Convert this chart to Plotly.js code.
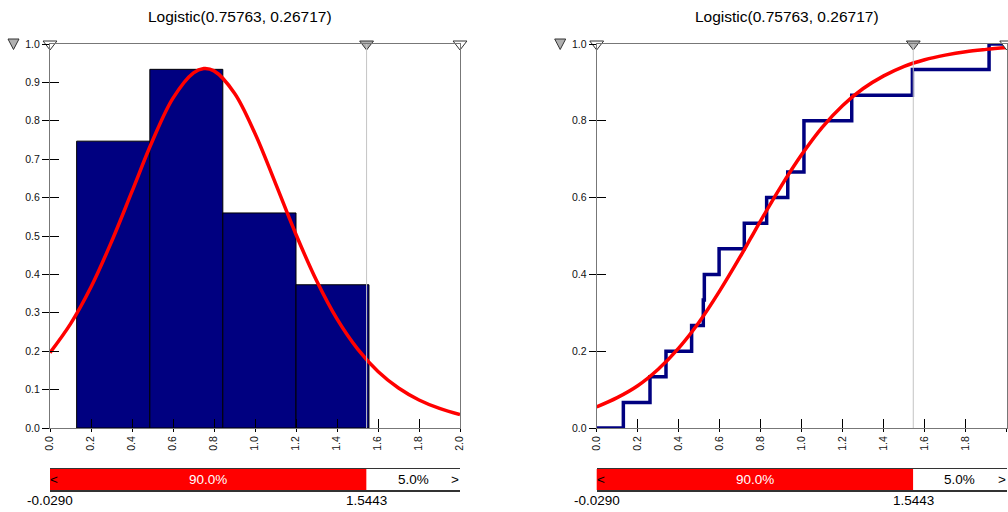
<!DOCTYPE html>
<html>
<head>
<meta charset="utf-8">
<script src="https://cdn.plot.ly/plotly-3.0.1.min.js"></script>
<style>html,body{margin:0;padding:0;background:#fff;}#chart{width:1008px;height:512px;}</style>
</head>
<body>
<div id="chart"></div>
<script>
// ---- data ----
const chartTitle = 'Logistic(0.75763, 0.26717)';

// histogram (left)
const binEdges = [0.130, 0.487, 0.843, 1.200, 1.556];
const binDensity = [0.747, 0.934, 0.560, 0.373];

// fitted logistic curve
const curveX = [0, 0.1, 0.2, 0.3, 0.4, 0.5, 0.6, 0.7, 0.75, 0.8, 0.9, 1.0, 1.1, 1.2, 1.3, 1.4, 1.5, 1.6, 1.7, 1.8, 1.9, 2.0];
const pdfY = [0.196, 0.271, 0.367, 0.485, 0.616, 0.748, 0.859, 0.925, 0.936, 0.930, 0.872, 0.767, 0.637, 0.504, 0.384, 0.284, 0.206, 0.147, 0.104, 0.073, 0.051, 0.035];
const cdfY = [0.055, 0.079, 0.110, 0.153, 0.208, 0.276, 0.357, 0.446, 0.493, 0.540, 0.630, 0.712, 0.783, 0.840, 0.884, 0.917, 0.942, 0.959, 0.971, 0.980, 0.986, 0.991];

// empirical CDF (right)
const ecdfX = [0.130, 0.260, 0.338, 0.463, 0.520, 0.525, 0.597, 0.720, 0.829, 0.932, 1.011, 1.011, 1.244, 1.540, 1.914];
const ecdfY = [0.0667, 0.1333, 0.2000, 0.2667, 0.3333, 0.4000, 0.4667, 0.5333, 0.6000, 0.6667, 0.7333, 0.8000, 0.8667, 0.9333, 1.0000];

// quantile bar
const quantileLow = -0.0290;
const quantileHigh = 1.5443;
const pctMiddle = 90.0;
const pctRight = 5.0;

// top slider handles (in-range ones)
const handleX = [0, quantileHigh, 2.0];
const handleFill = ['#ffffff', '#b0b0b0', '#ffffff'];

// ---- styling / layout ----
const FONT = 'Liberation Sans, Arial, Helvetica, sans-serif';
const NAVY = '#000080';
const RED = '#ff0000';
const xRange = [0, 2];
const yRange = [0, 1];
const W = 1008, H = 512;
const px = v => v / W, py = v => 1 - v / H;
const leftPx = 50, rightPx = 596.7, plotW = 410;
const domL = [px(leftPx), px(leftPx + plotW)];
const domR = [px(rightPx), px(rightPx + plotW)];
const domY = [py(428), py(44)];
const domBar = [py(490), py(469)];

const binCenters = binDensity.map((_, i) => (binEdges[i] + binEdges[i + 1]) / 2);
const binWidths = binDensity.map((_, i) => binEdges[i + 1] - binEdges[i]);

const stepX = [xRange[0]].concat(ecdfX, [xRange[1]]);
const stepY = [0].concat(ecdfY, [ecdfY[ecdfY.length - 1]]);

function handles(xa, ya) {
  return {
    type: 'scatter', mode: 'markers', x: handleX, y: handleX.map(() => yRange[1]),
    xaxis: xa, yaxis: ya, cliponaxis: false, hoverinfo: 'skip',
    marker: {symbol: 'triangle-down', size: 12, color: handleFill, line: {color: '#333', width: 1}}
  };
}
// off-scale handle drawn in the left margin of each panel
function outerHandle(axisLeftPx) {
  const cx = axisLeftPx - 36.5, top = 39, bot = 49.5, hw = 5.5;
  return {type: 'path', xref: 'paper', yref: 'paper', layer: 'above',
    path: `M ${px(cx - hw)} ${py(top)} L ${px(cx + hw)} ${py(top)} L ${px(cx)} ${py(bot)} Z`,
    fillcolor: '#b0b0b0', line: {color: '#333', width: 1}};
}
function quantBars(xa, ya) {
  return [
    {type: 'bar', orientation: 'h', y: [0], base: [quantileLow], x: [quantileHigh - quantileLow],
     width: [1], xaxis: xa, yaxis: ya, marker: {color: RED, line: {width: 0}}, hoverinfo: 'skip'},
    {type: 'bar', orientation: 'h', y: [0], base: [quantileHigh], x: [xRange[1] - quantileHigh + 1],
     width: [1], xaxis: xa, yaxis: ya, marker: {color: '#ffffff', line: {width: 0}}, hoverinfo: 'skip'}
  ];
}
// invisible helper traces so that the inner-tick overlay axes get drawn
function tickCarrier(xa, ya) {
  return {type: 'scatter', mode: 'markers', x: [xRange[0]], y: [yRange[0]], xaxis: xa, yaxis: ya,
    marker: {size: 1, opacity: 0}, hoverinfo: 'skip'};
}

const traces = [
  {type: 'bar', x: binCenters, y: binDensity, width: binWidths, xaxis: 'x', yaxis: 'y',
   marker: {color: NAVY, line: {color: '#000', width: 1}}, hoverinfo: 'skip'},
  {type: 'scatter', mode: 'lines', x: curveX, y: pdfY, xaxis: 'x', yaxis: 'y',
   line: {color: RED, width: 3.5, shape: 'spline'}, hoverinfo: 'skip'},
  handles('x', 'y'),
  {type: 'scatter', mode: 'lines', x: stepX, y: stepY, xaxis: 'x2', yaxis: 'y2',
   line: {color: NAVY, width: 3.5, shape: 'hv'}, hoverinfo: 'skip'},
  {type: 'scatter', mode: 'lines', x: curveX, y: cdfY, xaxis: 'x2', yaxis: 'y2',
   line: {color: RED, width: 3.5, shape: 'spline'}, hoverinfo: 'skip'},
  handles('x2', 'y2'),
  ...quantBars('x3', 'y3'),
  ...quantBars('x4', 'y4'),
  tickCarrier('x5', 'y'),
  tickCarrier('x', 'y5'),
  tickCarrier('x6', 'y2'),
  tickCarrier('x2', 'y6')
];

const tickFont = {family: FONT, size: 10.5, color: '#111'};
function mainX(dom, anchor) {
  return {domain: dom, anchor: anchor, range: xRange, dtick: 0.2, tick0: 0, tickformat: '.1f',
    tickangle: -90, ticks: 'outside', ticklen: 3, tickcolor: '#000', tickwidth: 1,
    tickfont: tickFont, showgrid: false, zeroline: false,
    showline: true, mirror: true, linecolor: '#777', linewidth: 1, fixedrange: true};
}
function innerX(over, anchor) {
  return {overlaying: over, anchor: anchor, side: 'bottom', range: xRange, dtick: 0.2, tick0: 0,
    ticks: 'inside', ticklen: 9, tickcolor: '#000', tickwidth: 1, showticklabels: false,
    showgrid: false, zeroline: false, showline: false, fixedrange: true};
}
function mainY(anchor, dtick) {
  return {domain: domY, anchor: anchor, range: yRange, dtick: dtick, tick0: 0, tickformat: '.1f',
    ticks: 'outside', ticklen: 7, tickcolor: '#000', tickwidth: 1, tickfont: tickFont,
    showgrid: false, zeroline: false, showline: true, mirror: true, linecolor: '#777', linewidth: 1,
    fixedrange: true};
}
function innerY(over, anchor, dtick) {
  return {overlaying: over, anchor: anchor, side: 'left', range: yRange, dtick: dtick, tick0: 0,
    ticks: 'inside', ticklen: 9, tickcolor: '#000', tickwidth: 1, showticklabels: false,
    showgrid: false, zeroline: false, showline: false, fixedrange: true};
}
function barX(dom, anchor) {
  return {domain: dom, anchor: anchor, range: xRange, showticklabels: false, ticks: '',
    showgrid: false, zeroline: false, showline: true, mirror: true, linecolor: '#333', linewidth: 1.5,
    fixedrange: true};
}
function barY(anchor) {
  return {domain: domBar, anchor: anchor, range: [-0.5, 0.5], visible: false, fixedrange: true};
}

const annFont = {family: FONT, size: 13.5, color: '#000'};
function barAnnotations(xr, yr) {
  const start = Math.max(xRange[0], quantileLow);
  return [
    {xref: xr, yref: yr, x: (start + quantileHigh) / 2, y: 0, text: pctMiddle.toFixed(1) + '%',
     showarrow: false, font: Object.assign({}, annFont, {color: '#fff'})},
    {xref: xr, yref: yr, x: (quantileHigh + xRange[1]) / 2, y: 0, text: pctRight.toFixed(1) + '%',
     showarrow: false, font: annFont},
    {xref: xr, yref: yr, x: xRange[0], y: 0, text: '&lt;', xanchor: 'left', xshift: -2,
     showarrow: false, font: annFont},
    {xref: xr, yref: yr, x: xRange[1], y: 0, text: '&gt;', xanchor: 'right', xshift: 1,
     showarrow: false, font: annFont},
    {xref: xr, yref: 'paper', x: start, y: py(500), yanchor: 'middle', text: quantileLow.toFixed(4),
     showarrow: false, font: annFont},
    {xref: xr, yref: 'paper', x: quantileHigh, y: py(500), yanchor: 'middle', text: quantileHigh.toFixed(4),
     showarrow: false, font: annFont}
  ];
}

const layout = {
  width: W, height: H, margin: {l: 0, r: 0, t: 0, b: 0, pad: 0},
  paper_bgcolor: '#fff', plot_bgcolor: '#fff', showlegend: false, barmode: 'overlay',
  font: {family: FONT, color: '#222'},
  xaxis: mainX(domL, 'y'),
  yaxis: mainY('x', 0.1),
  xaxis2: mainX(domR, 'y2'),
  yaxis2: mainY('x2', 0.2),
  xaxis3: barX(domL, 'y3'),
  yaxis3: barY('x3'),
  xaxis4: barX(domR, 'y4'),
  yaxis4: barY('x4'),
  xaxis5: innerX('x', 'y'),
  yaxis5: innerY('y', 'x', 0.1),
  xaxis6: innerX('x2', 'y2'),
  yaxis6: innerY('y2', 'x2', 0.2),
  shapes: [
    {type: 'line', xref: 'x', yref: 'y domain', x0: quantileHigh, x1: quantileHigh, y0: 0, y1: 1,
     line: {color: '#c4c4c4', width: 1}, layer: 'above'},
    {type: 'line', xref: 'x2', yref: 'y2 domain', x0: quantileHigh, x1: quantileHigh, y0: 0, y1: 1,
     line: {color: '#c4c4c4', width: 1}, layer: 'above'},
    outerHandle(leftPx),
    outerHandle(rightPx)
  ],
  annotations: [
    {xref: 'paper', yref: 'paper', x: px(240), y: py(16), xanchor: 'center', yanchor: 'middle',
     text: chartTitle, showarrow: false, font: {family: FONT, size: 15.5, color: '#000'}},
    {xref: 'paper', yref: 'paper', x: px(786.5), y: py(16), xanchor: 'center', yanchor: 'middle',
     text: chartTitle, showarrow: false, font: {family: FONT, size: 15.5, color: '#000'}},
    ...barAnnotations('x3', 'y3'),
    ...barAnnotations('x4', 'y4')
  ]
};

Plotly.newPlot('chart', traces, layout, {staticPlot: true, displayModeBar: false});
</script>
</body>
</html>
